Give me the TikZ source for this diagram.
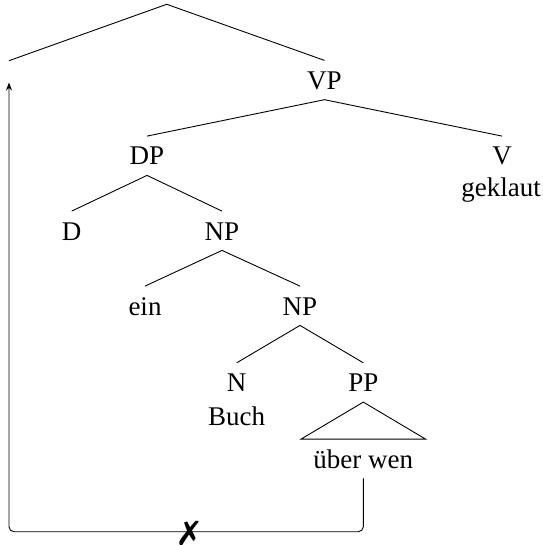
\documentclass[tikz,border=0pt]{standalone}
\usepackage{fontspec}
\setmainfont{Liberation Serif}
\usepackage{pifont}
\usetikzlibrary{arrows.meta}
\begin{document}
\begin{tikzpicture}[x=0.5pt,y=-0.5pt,
  cat/.style={inner sep=0pt, text height=14.25pt, text depth=5pt, anchor=base, font=\fontsize{13.5}{16}\selectfont},
  leaf/.style={inner sep=0pt, anchor=base, font=\fontsize{13.5}{16}\selectfont},
  tracenode/.style={inner sep=0pt, minimum height=10.5pt, minimum width=0pt, anchor=north},
  edge/.style={line width=0.45pt},
  move/.style={line width=0.45pt, rounded corners=2.5pt, -{Stealth[length=4pt,width=3pt]}}]
\useasboundingbox (0,0) rectangle (542,545);
% nodes
\coordinate (top) at (166.7,4.3);
\node[tracenode] (t) at (9,60.7) {};
\node[cat] (vp) at (324.5,89.3) {VP};
\node[cat] (dp) at (147,165) {DP};
\node[cat] (v) at (502,165) {V};
\node[leaf] (geklaut) at (501,196.7) {geklaut};
\node[cat] (d) at (71.7,240) {D};
\node[cat] (np1) at (222,240) {NP};
\node[cat] (ein) at (145,315) {ein};
\node[cat] (np2) at (300,315) {NP};
\node[cat] (n) at (236.7,391.7) {N};
\node[leaf] (buch) at (236.7,425) {Buch};
\node[cat] (pp) at (363.3,391.7) {PP};
\node[cat, inner xsep=6pt] (uw) at (363.3,468) {über wen};
\coordinate (corner) at (9,531.7);
% edges
\draw[edge] (t.north) -- (top) -- (vp.north);
\draw[edge] (dp.north) -- (vp.south) -- (v.north);
\draw[edge] (d.north) -- (dp.south) -- (np1.north);
\draw[edge] (ein.north) -- (np1.south) -- (np2.north);
\draw[edge] (n.north) -- (np2.south) -- (pp.north);
\draw[edge] (pp.south) -- (uw.north west) -- (uw.north east) -- cycle;
% movement
\draw[move] (uw.south) |- (corner) -- (t.south);
\node[inner sep=0pt, font=\fontsize{17}{20}\selectfont] (x) at (189,533) {\ding{55}};
\end{tikzpicture}
\end{document}
